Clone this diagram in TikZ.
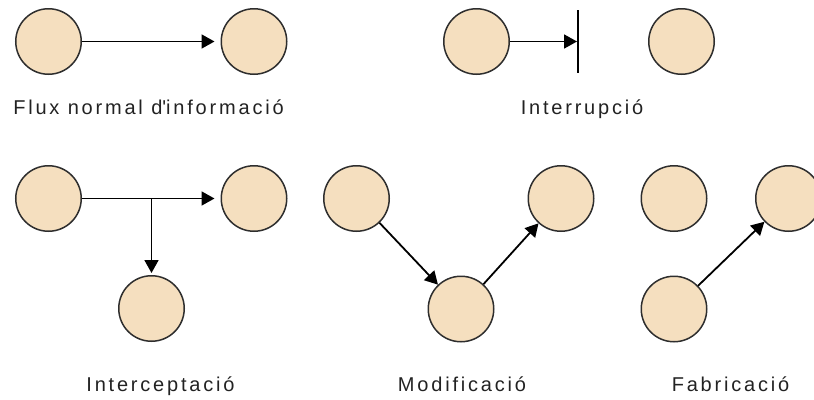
\documentclass[tikz,border=0pt]{standalone}
\usepackage{fontspec}
\newfontfamily\lblfont[LetterSpace=14]{Liberation Sans}
\usetikzlibrary{arrows.meta}
\definecolor{peach}{HTML}{F5DFBF}
\definecolor{rim}{HTML}{2E2E2E}
\definecolor{ink}{HTML}{222222}
\newcommand{\straightquote}{\XeTeXglyph\XeTeXcharglyph"27\relax}
\begin{document}
\begin{tikzpicture}[x=1pt,y=-1pt,
  agent/.style={circle, draw=rim, line width=1.5pt, fill=peach,
    minimum size=65.5pt, inner sep=0pt},
  flow/.style={line width=1.8pt, draw=black,
    -{Triangle[length=13pt,width=14pt]}},
  plain/.style={line width=1.8pt, draw=black},
  lbl/.style={font=\lblfont\fontsize{20}{22}\selectfont, text=ink, anchor=base}]
\useasboundingbox (0,0) rectangle (814,399);

% normal flow
\node[agent] (a1) at (48.5,41.5) {};
\node[agent] (a2) at (254,41.5) {};
\draw[flow, shorten >=6pt] (a1) -- (a2);
\node[lbl] (t1) at (148.5,114.5) {Flux normal d\straightquote informació};

% interruption
\node[agent] (b1) at (476.5,41.5) {};
\node[agent] (b2) at (681.5,41.5) {};
\coordinate (barT) at (578,10);
\coordinate (barB) at (578,73);
\coordinate (barM) at (578,41.5);
\draw[plain] (barT) -- (barB);
\draw[flow, shorten >=1pt] (b1) -- (barM);
\node[lbl] (t2) at (582,114.5) {Interrupció};

% interception
\node[agent] (c1) at (48.5,198.5) {};
\node[agent] (c2) at (254,198.5) {};
\node[agent] (c3) at (151.5,308.5) {};
\coordinate (tap) at (151.5,198.5);
\draw[flow, shorten >=6pt] (c1) -- (c2);
\draw[flow, shorten >=2pt] (tap) -- (c3);
\node[lbl] (t3) at (160.5,391.5) {Interceptació};

% modification
\node[agent] (d1) at (356.5,198.5) {};
\node[agent] (d2) at (461,309) {};
\node[agent] (d3) at (561,198.5) {};
\draw[flow] (d1) -- (d2);
\draw[flow] (d2) -- (d3);
\node[lbl] (t4) at (462,391.5) {Modificació};

% fabrication
\node[agent] (e1) at (674,198.5) {};
\node[agent] (e2) at (788.5,198.5) {};
\node[agent] (e3) at (674,309) {};
\draw[flow] (e3) -- (e2);
\node[lbl] (t5) at (730.5,391.5) {Fabricació};
\end{tikzpicture}
\end{document}
